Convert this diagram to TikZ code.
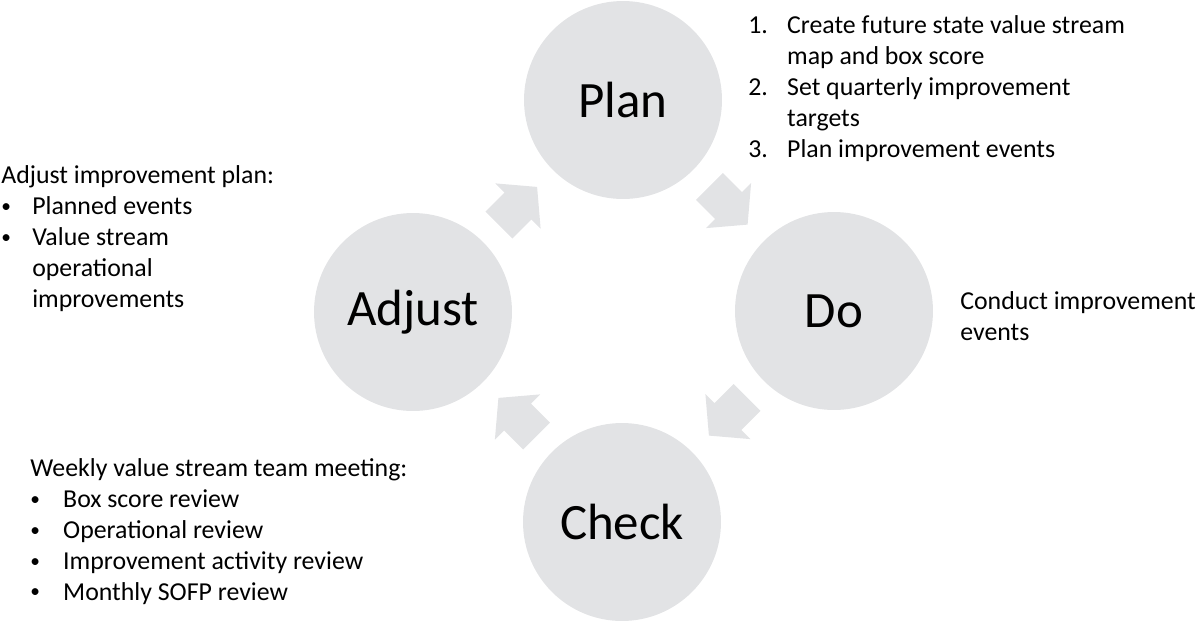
\documentclass[tikz,border=0pt]{standalone}
\usepackage{fontspec}
\setmainfont{Carlito}
\usetikzlibrary{calc}

\definecolor{cyclegray}{RGB}{226,227,229}
\newcommand{\hang}[2]{\makebox[#1][l]{#2}}
\newcommand{\itemdot}{\raisebox{0.08em}{\scalebox{0.75}{\textbullet}}}

\tikzset{
  stage/.style={circle, fill=cyclegray, minimum size=3.96cm, inner sep=0pt, font=\fontsize{29}{35}\selectfont},
  turn/.pic={\fill[cyclegray] (-27,-19) -- (0,-19) -- (0,-32) -- (27,0) -- (0,32) -- (0,19) -- (-27,19) -- cycle;},
  note/.style={anchor=base west, align=left, inner sep=0pt, font=\fontsize{14.7}{17.6}\selectfont}
}

\begin{document}
\begin{tikzpicture}[x=0.02cm,y=-0.02cm]
    \useasboundingbox (0,0) rectangle (1200,623);

    %Circles
    \node[stage] (plan) at (623,100) {Plan};
    \node[stage] (do) at (834,311) {Do};
    \node[stage] (check) at (622,522) {Check};
    \node[stage] (adjust) at (413,312) {Adjust};

    % Arrows
    \pic[rotate=-45] (plando) at ($(plan)!0.5!(do)$) {turn};
    \pic[rotate=-135] (docheck) at ($(do)!0.5!(check)$) {turn};
    \pic[rotate=135] (checkadjust) at ($(check)!0.5!(adjust)$) {turn};
    \pic[rotate=45] (adjustplan) at ($(adjust)!0.5!(plan)$) {turn};

    % Notes (placed at the baseline of their last line)
    \node[note] (plannote) at (748,157) {\hang{22.1pt}{1.}Create future state value stream\\
      \hang{22.1pt}{}map and box score\\
      \hang{22.1pt}{2.}Set quarterly improvement\\
      \hang{22.1pt}{}targets\\
      \hang{22.1pt}{3.}Plan improvement events};
    \node[note] (donote) at (960,340) {Conduct improvement\\events};
    \node[note] (checknote) at (30,600) {Weekly value stream team meeting:\\
      \hang{18.7pt}{\itemdot}Box score review\\
      \hang{18.7pt}{\itemdot}Operational review\\
      \hang{18.7pt}{\itemdot}Improvement activity review\\
      \hang{18.7pt}{\itemdot}Monthly SOFP review};
    \node[note] (adjustnote) at (1,307) {Adjust improvement plan:\\
      \hang{17.6pt}{\itemdot}Planned events\\
      \hang{17.6pt}{\itemdot}Value stream\\
      \hang{17.6pt}{}operational\\
      \hang{17.6pt}{}improvements};
\end{tikzpicture}
\end{document}
